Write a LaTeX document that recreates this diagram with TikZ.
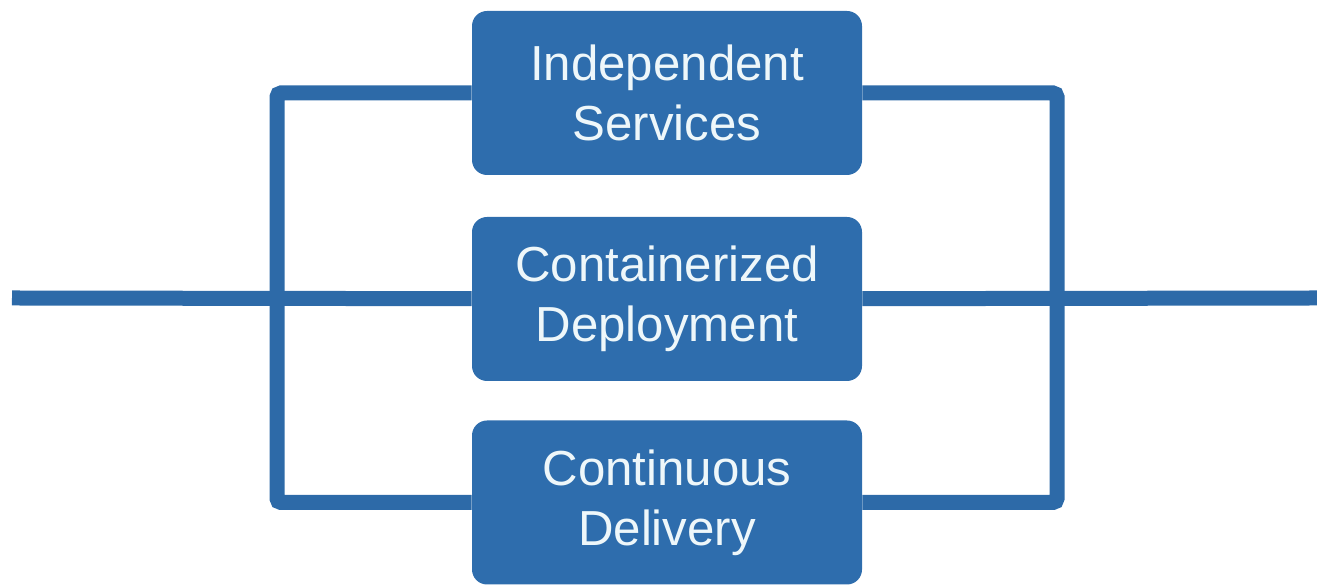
\documentclass[tikz,border=0pt]{standalone}
\usepackage{fontspec}
\setmainfont{Liberation Sans}
\definecolor{boxblue}{HTML}{2E6DAD}
\definecolor{lineblue}{HTML}{2D6AA8}
\definecolor{textwhite}{HTML}{EEF7FA}
\tikzset{
  stage/.style={fill=boxblue, rounded corners=0.3cm, minimum width=7.8cm,
    minimum height=3.28cm, align=center, text=textwhite,
    font=\fontsize{28}{34}\selectfont},
  wire/.style={draw=lineblue, line width=0.3cm, rounded corners=0.08cm}
}
\begin{document}
\begin{tikzpicture}
      \useasboundingbox (0,0) rectangle (26.34,11.7);
      \draw
        (13.34,9.84) node[stage] (services){Independent\\Services}
        (13.34,5.72) node[stage] (deploy){Containerized\\Deployment}
        (13.34,1.65) node[stage] (delivery){Continuous\\Delivery};
      \coordinate (input) at (0.24,5.74);
      \coordinate (output) at (26.34,5.74);
      \coordinate (split) at (5.54,5.74);
      \coordinate (join) at (21.14,5.74);
      \begin{scope}[wire]
        \draw (input) to (deploy);
        \draw (deploy) to (output);
        \draw (services) -| (split) |- (delivery);
        \draw (services) -| (join) |- (delivery);
      \end{scope}
    \end{tikzpicture}
\end{document}
